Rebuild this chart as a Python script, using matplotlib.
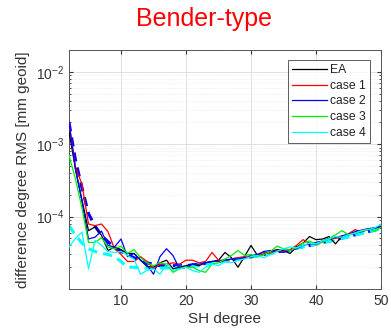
import matplotlib
matplotlib.use('Agg')
import matplotlib.pyplot as plt
import numpy as np
from matplotlib.ticker import FixedLocator, FixedFormatter, LogLocator, NullFormatter

plt.rcParams['font.family'] = ['Liberation Sans', 'DejaVu Sans']
plt.rcParams['mathtext.fontset'] = 'custom'
plt.rcParams['mathtext.rm'] = 'Liberation Sans'
plt.rcParams['mathtext.it'] = 'Liberation Sans:italic'
plt.rcParams['mathtext.bf'] = 'Liberation Sans:bold'

# ── Data (values in units of 1e-5 mm geoid) ───────────────────────────────────
degrees = np.arange(2, 51)
scale = 1e-5

ea = [150, 45, 17, 6.4, 7.2, 5.5, 3.4, 3.8, 3.5, 3.1, 3.1, 2.5, 2.05, 2.0, 2.3,
      2.5, 1.9, 2.0, 2.1, 2.2, 2.1, 2.3, 2.4, 2.5, 3.2, 2.7, 2.0, 2.8, 4.0, 2.9,
      3.0, 3.3, 3.5, 3.4, 3.1, 3.8, 4.3, 5.3, 4.8, 4.9, 5.3, 4.2, 5.4, 5.6, 5.9,
      6.2, 6.6, 7.0, 7.3]
case1 = [200, 48, 28, 7.9, 7.5, 7.9, 6.2, 3.6, 3.0, 2.4, 2.4, 2.8, 2.4, 1.9, 2.2,
         2.2, 2.3, 2.2, 2.5, 2.5, 2.3, 2.4, 3.2, 2.5, 2.4, 2.6, 2.7, 2.8, 2.7, 3.0,
         3.2, 3.1, 3.4, 3.3, 3.5, 4.0, 4.8, 4.3, 4.1, 4.5, 5.0, 5.0, 5.2, 5.8, 6.6,
         6.2, 6.7, 6.9, 7.4]
case2 = [200, 45, 16, 4.9, 5.2, 6.3, 4.0, 3.8, 4.9, 2.8, 3.1, 2.5, 2.15, 1.6, 2.8,
         3.6, 2.9, 1.9, 2.0, 2.2, 2.2, 2.3, 2.4, 2.4, 2.5, 2.6, 2.6, 2.7, 2.8, 3.0,
         3.3, 3.4, 3.3, 3.2, 3.4, 3.6, 4.0, 4.2, 4.4, 4.6, 5.0, 5.2, 5.4, 5.7, 6.2,
         6.5, 6.8, 7.0, 7.3]
case3 = [70, 33, 13, 4.4, 4.4, 5.1, 3.8, 3.6, 3.9, 3.1, 3.5, 2.7, 2.3, 2.1, 2.3,
         2.2, 1.7, 1.9, 2.0, 2.0, 1.8, 1.7, 2.2, 2.3, 2.6, 2.9, 3.4, 2.9, 3.0, 2.8,
         3.0, 3.3, 3.9, 3.6, 3.4, 3.7, 4.3, 4.6, 4.2, 4.4, 5.0, 5.6, 6.4, 5.6, 5.9,
         6.3, 6.7, 6.3, 7.1]
case4 = [3.8, 5.0, 6.1, 1.9, 4.7, 4.0, 3.3, 3.2, 3.3, 2.9, 2.6, 1.6, 1.8, 1.9, 1.6,
         2.2, 1.8, 1.9, 2.0, 1.8, 1.7, 2.0, 2.2, 2.1, 2.4, 2.3, 2.5, 2.6, 2.8, 2.9,
         2.7, 3.0, 3.3, 3.6, 3.8, 3.7, 4.0, 4.3, 4.2, 4.6, 4.9, 5.3, 5.2, 5.6, 5.9,
         6.4, 6.6, 7.0, 7.8]
# smooth reference curves (dashed)
case2_ref = [200, 60, 25, 11, 7.4, 5.5, 4.5, 3.8, 3.3, 3.0, 2.7, 2.5, 2.3, 2.2, 2.1,
             2.1, 2.1, 2.1, 2.1, 2.15, 2.2, 2.25, 2.3, 2.4, 2.45, 2.55, 2.6, 2.7,
             2.8, 2.9, 3.0, 3.15, 3.25, 3.4, 3.5, 3.7, 3.85, 4.0, 4.2, 4.4, 4.6,
             4.8, 5.05, 5.3, 5.6, 5.9, 6.2, 6.5, 6.9]
case4_ref = [7.5, 5.5, 4.3, 3.6, 3.3, 3.1, 3.0, 2.8, 2.4, 2.0, 2.0, 1.95, 1.95, 1.95,
             1.95, 1.95, 1.95, 2.0, 2.0, 2.05, 2.1, 2.2, 2.25, 2.35, 2.4, 2.5, 2.55,
             2.65, 2.75, 2.85, 2.95, 3.1, 3.2, 3.35, 3.45, 3.65, 3.8, 3.95, 4.15,
             4.35, 4.55, 4.75, 5.0, 5.25, 5.55, 5.85, 6.15, 6.45, 6.85]

series = [('EA', ea, 'black'), ('case 1', case1, '#ff0000'),
          ('case 2', case2, '#0000ff'), ('case 3', case3, '#00ee00'),
          ('case 4', case4, '#00ffff')]

# ── Figure ────────────────────────────────────────────────────────────────────
W, H = 391, 334
fig = plt.figure(figsize=(W / 100, H / 100), dpi=100)
fig.patch.set_facecolor('white')
ax = fig.add_axes([69 / W, 1 - 289 / H, (381 - 69) / W, (289 - 50) / H])

ax.plot(degrees, np.array(case2_ref) * scale, color='#0000ff', lw=2.2,
        ls=(0, (3, 2)), zorder=2)
ax.plot(degrees, np.array(case4_ref) * scale, color='#00ffff', lw=2.2,
        ls=(0, (3, 2)), zorder=2)
for label, vals, col in series:
    ax.plot(degrees, np.array(vals) * scale, color=col, lw=0.9, label=label, zorder=3)

ax.set_yscale('log')
ax.set_xlim(2, 50)
ax.set_ylim(1e-5, 2e-2)
ax.xaxis.set_major_locator(FixedLocator([10, 20, 30, 40, 50]))
ax.yaxis.set_major_locator(FixedLocator([1e-4, 1e-3, 1e-2]))
ax.yaxis.set_major_formatter(FixedFormatter(['10$^{-4}$', '10$^{-3}$', '10$^{-2}$']))
ax.yaxis.set_minor_locator(LogLocator(base=10, subs=np.arange(2, 10)))
ax.yaxis.set_minor_formatter(NullFormatter())

ax.grid(True, which='major', color='#dcdcdc', lw=0.6)
ax.grid(True, which='minor', axis='y', color='#e8e8e8', lw=0.5, ls=(0, (1, 1)))
ax.set_axisbelow(True)

ax.tick_params(which='both', direction='in', top=True, right=True,
               labelsize=10, colors='#333333', length=3)
ax.tick_params(which='minor', length=1.5)
for sp in ax.spines.values():
    sp.set_color('#555555')
    sp.set_linewidth(0.7)

ax.set_xlabel('SH degree', fontsize=11, color='#333333', labelpad=3)
ax.set_ylabel('difference degree RMS [mm geoid]', fontsize=11, color='#333333',
              labelpad=4)

fig.text(204 / W, 1 - 19 / H, 'Bender-type', color='#ff0000', fontsize=18,
         ha='center', va='center')

leg = ax.legend(loc='upper right', bbox_to_anchor=(370 / W, 1 - 60 / H),
                bbox_transform=fig.transFigure, borderaxespad=0, fontsize=8.7,
                frameon=True, fancybox=False, handlelength=2.9,
                handletextpad=0.25, labelspacing=0.3, borderpad=0.35)
leg.get_frame().set_edgecolor('#333333')
leg.get_frame().set_linewidth(0.7)
for t in leg.get_texts():
    t.set_color('#222222')

plt.savefig('out.png', dpi=100, facecolor='white')
